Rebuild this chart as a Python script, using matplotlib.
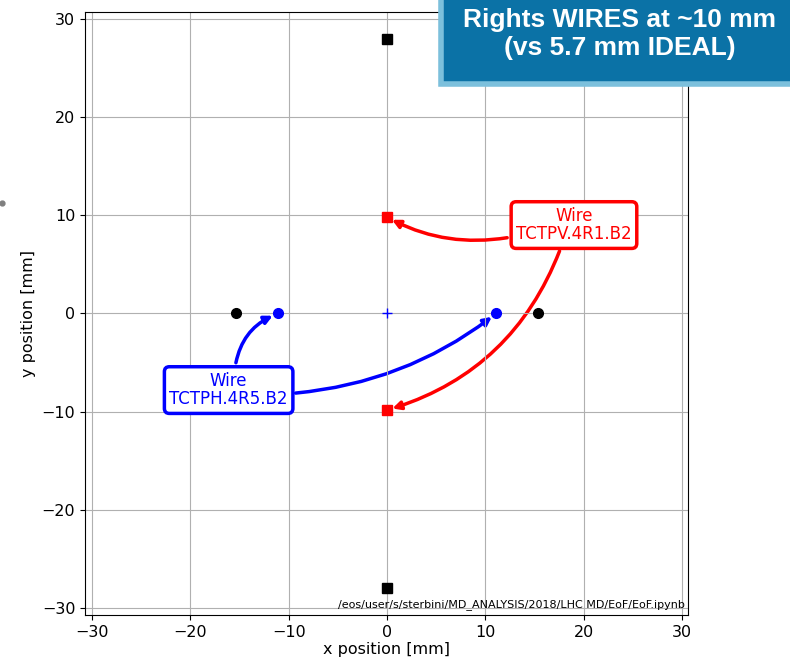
import matplotlib
matplotlib.use('Agg')
import matplotlib.pyplot as plt
from matplotlib.patches import Rectangle
from matplotlib.lines import Line2D

# beam screen corners (black squares), wire positions, TCT jaws
sq_black_x = [0, 0]
sq_black_y = [27.9, -28.0]
wire_v_x = [0, 0]
wire_v_y = [9.8, -9.85]
jaw_h_x = [-15.4, 15.35]
jaw_h_y = [0, 0]
wire_h_x = [-11.1, 11.1]
wire_h_y = [0, 0]
center = (0, 0)

ticks = [-30, -20, -10, 0, 10, 20, 30]
path_note = '/eos/user/s/sterbini/MD_ANALYSIS/2018/LHC MD/EoF/EoF.ipynb'

fig = plt.figure(figsize=(7.9, 6.63), dpi=100)
ax = fig.add_axes([0.1076, 0.0724, 0.7634, 0.9096])

ax.plot(sq_black_x, sq_black_y, 's', color='k', ms=7, ls='none')
ax.plot(wire_v_x, wire_v_y, 's', color='r', ms=7, ls='none')
ax.plot(jaw_h_x, jaw_h_y, 'o', color='k', ms=7, ls='none')
ax.plot(wire_h_x, wire_h_y, 'o', color='b', ms=7, ls='none')
ax.plot(*center, '+', color='b', ms=7, mew=1.0)

ax.set_xlim(-30.7, 30.6)
ax.set_ylim(-30.7, 30.7)
ax.set_xticks(ticks)
ax.set_yticks(ticks)
ax.tick_params(labelsize=11.5)
ax.grid(True, color='#b0b0b0', lw=0.8)
ax.set_xlabel('x position [mm]', fontsize=11.5, labelpad=2)
ax.set_ylabel('y position [mm]', fontsize=11.5)

# annotations for the two wires
box_r = dict(boxstyle='round,pad=0.3', fc='white', ec='r', lw=2.5)
box_b = dict(boxstyle='round,pad=0.3', fc='white', ec='b', lw=2.5)
ghost = dict(boxstyle='round,pad=0.3', fc='none', ec='none', lw=2.5)
txt_v = 'Wire\nTCTPV.4R1.B2'
txt_h = 'Wire\nTCTPH.4R5.B2'
fs = 12

ax.annotate(txt_v, xy=(wire_v_x[0], wire_v_y[0]), xytext=(19.0, 9.0),
            ha='center', va='center', color='r', fontsize=fs, bbox=box_r,
            linespacing=1.05,
            arrowprops=dict(arrowstyle='-|>', color='r', lw=2.5, relpos=(0, 0.2),
                            connectionstyle='arc3,rad=-0.18', shrinkB=4))
ax.annotate(txt_v, xy=(wire_v_x[1], wire_v_y[1]), xytext=(19.0, 9.0),
            ha='center', va='center', color='none', fontsize=fs, bbox=ghost,
            linespacing=1.05, zorder=1,
            arrowprops=dict(arrowstyle='-|>', color='r', lw=2.5, relpos=(0.4, 0),
                            connectionstyle='arc3,rad=-0.25', shrinkB=4))

ax.annotate(txt_h, xy=(wire_h_x[0], wire_h_y[0]), xytext=(-16.1, -7.8),
            ha='center', va='center', color='b', fontsize=fs, bbox=box_b,
            linespacing=1.05,
            arrowprops=dict(arrowstyle='-|>', color='b', lw=2.5, relpos=(0.55, 1),
                            connectionstyle='arc3,rad=-0.3', shrinkB=4))
ax.annotate(txt_h, xy=(wire_h_x[1], wire_h_y[1]), xytext=(-16.1, -7.8),
            ha='center', va='center', color='none', fontsize=fs, bbox=ghost,
            linespacing=1.05, zorder=1,
            arrowprops=dict(arrowstyle='-|>', color='b', lw=2.5, relpos=(1, 0.4),
                            connectionstyle='arc3,rad=0.15', shrinkB=4))

ax.text(0.995, 0.008, path_note, transform=ax.transAxes, ha='right', va='bottom',
        fontsize=8)

# headline box in the top right corner
fig.patches.append(Rectangle((441 / 790, 1 - 84 / 663), 360 / 790, 90 / 663,
                             transform=fig.transFigure, fc='#0b72a6',
                             ec='#7cc0dc', lw=4, zorder=5))
fig.text(0.784, 1 - 34 / 663, 'Rights WIRES at ~10 mm\n(vs 5.7 mm IDEAL)',
         ha='center', va='center', color='white', fontsize=19, fontweight='bold',
         family='Liberation Sans', linespacing=1.25, zorder=6)

# small stray dot at the left edge
fig.add_artist(Line2D([0.002], [1 - 203 / 663], marker='o', ms=3.5,
                      color='#7f7f7f', transform=fig.transFigure))

fig.savefig('out.png', dpi=100)
